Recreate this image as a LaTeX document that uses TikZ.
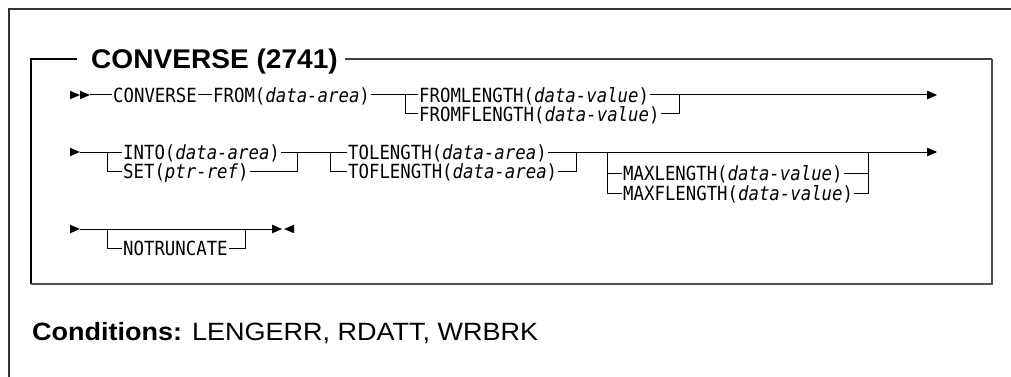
\documentclass[tikz,border=0pt]{standalone}
\usepackage{fontspec}
\usetikzlibrary{arrows.meta}
\newfontfamily\dmono[FakeStretch=0.89]{DejaVu Sans Mono}
\newfontfamily\hsans[FakeStretch=1.04]{Liberation Sans}
\newfontfamily\csans[FakeStretch=1.08]{Liberation Sans}
\tikzset{
  kw/.style={anchor=west, inner xsep=1pt, inner ysep=0pt, text height=14.2pt, text depth=0pt,
    font=\dmono\fontsize{19.5}{19.5}\selectfont},
  rail/.style={line width=1pt, black},
  railarrow/.style={rail, -{Triangle[length=10pt,width=8.5pt]}},
  tipfill/.style={fill=black},
  outerframe/.style={line width=1.5pt, black!80},
  innerdark/.style={line width=2pt, black},
  innergrey/.style={line width=2.5pt, black!68},
  titleline/.style={line width=1.3pt, black!75},
}
\begin{document}
\begin{tikzpicture}[x=1pt,y=-1pt]
\useasboundingbox (0,0) rectangle (1011,377);
% frames
\coordinate (oa) at (9,377); \coordinate (ob) at (9,9); \coordinate (oc) at (1011,9);
\draw[outerframe] (oa) -- (ob) -- (oc);
\node[anchor=west, inner sep=0pt, text height=19.3pt, text depth=0pt,
  font=\hsans\bfseries\fontsize{27}{27}\selectfont] (title) at (91,59) {CONVERSE (2741)};
\coordinate (ia) at (31,284); \coordinate (ib) at (31,59); \coordinate (tl) at (77,59);
\coordinate (tr) at (345,59); \coordinate (ic) at (992,59); \coordinate (id) at (992,284);
\draw[innerdark] (tl) -- (ib) -- (ia);
\draw[titleline] (tr) -- (ic);
\draw[innergrey] (ic) -- (id) -- (ia);
% row 1
\coordinate (s1) at (70,95); \coordinate (s1e) at (90,95);
\fill[tipfill] (s1) ++(0,-4.25) -- ++(10,4.25) -- ++(-10,4.25) -- cycle;
\fill[tipfill] (s1) ++(10,-4.25) -- ++(10,4.25) -- ++(-10,4.25) -- cycle;
\node[kw] (conv) at (112,95) {CONVERSE};
\node[kw] (from) at (212,95) {FROM(\textit{data-area})};
\node[kw] (fl) at (418,95) {FROMLENGTH(\textit{data-value})};
\node[kw] (ffl) at (418,114) {FROMFLENGTH(\textit{data-value})};
\coordinate (b1l) at (405,95); \coordinate (b1r) at (679,95); \coordinate (e1) at (937,95);
\draw[rail] (s1e) -- (conv.west);
\draw[rail] (conv.east) -- (from.west);
\draw[rail] (from.east) -- (fl.west);
\draw[rail] (b1l) |- (ffl.west);
\draw[rail] (fl.east) -- (b1r);
\draw[rail] (ffl.east) -| (b1r);
\draw[railarrow] (b1r) -- (e1);
% row 2
\coordinate (s2) at (70,152); \coordinate (s2e) at (80,152);
\fill[tipfill] (s2) ++(0,-4.25) -- ++(10,4.25) -- ++(-10,4.25) -- cycle;
\node[kw] (into) at (122,152) {INTO(\textit{data-area})};
\node[kw] (set) at (122,171) {SET(\textit{ptr-ref})};
\coordinate (b2a) at (107,152); \coordinate (b2b) at (297,152);
\draw[rail] (s2e) -- (into.west);
\draw[rail] (b2a) |- (set.west);
\draw[rail] (into.east) -- (b2b);
\draw[rail] (set.east) -| (b2b);
\node[kw] (tol) at (347,152) {TOLENGTH(\textit{data-area})};
\node[kw] (tofl) at (347,171) {TOFLENGTH(\textit{data-area})};
\coordinate (b2c) at (330,152); \coordinate (b2d) at (576,152);
\draw[rail] (b2b) -- (tol.west);
\draw[rail] (b2c) |- (tofl.west);
\draw[rail] (tol.east) -- (b2d);
\draw[rail] (tofl.east) -| (b2d);
\node[kw] (maxl) at (622,173) {MAXLENGTH(\textit{data-value})};
\node[kw] (maxfl) at (622,193) {MAXFLENGTH(\textit{data-value})};
\coordinate (b2e) at (607,152); \coordinate (b2f) at (868,152); \coordinate (e2) at (937,152);
\draw[railarrow] (b2d) -- (e2);
\draw[rail] (b2e) |- (maxfl.west);
\draw[rail] (b2e |- maxl.west) -- (maxl.west);
\draw[rail] (maxl.east) -- (b2f |- maxl.east);
\draw[rail] (maxfl.east) -| (b2f);
% row 3
\coordinate (s3) at (70,229); \coordinate (s3e) at (80,229);
\fill[tipfill] (s3) ++(0,-4.25) -- ++(10,4.25) -- ++(-10,4.25) -- cycle;
\node[kw] (notr) at (122,248) {NOTRUNCATE};
\coordinate (b3a) at (107,229); \coordinate (b3b) at (245,229); \coordinate (e3) at (282,229);
\draw[railarrow] (s3e) -- (e3);
\draw[rail] (b3a) |- (notr.west);
\draw[rail] (notr.east) -| (b3b);
\fill[tipfill] (e3) ++(12,-4.25) -- ++(-10,4.25) -- ++(10,4.25) -- cycle;
% conditions
\node[anchor=west, inner sep=0pt, text height=17.9pt, text depth=0pt,
  font=\csans\fontsize{25}{25}\selectfont] (cond) at (32,332)
  {\textbf{Conditions:} LENGERR, RDATT, WRBRK};
\end{tikzpicture}
\end{document}
